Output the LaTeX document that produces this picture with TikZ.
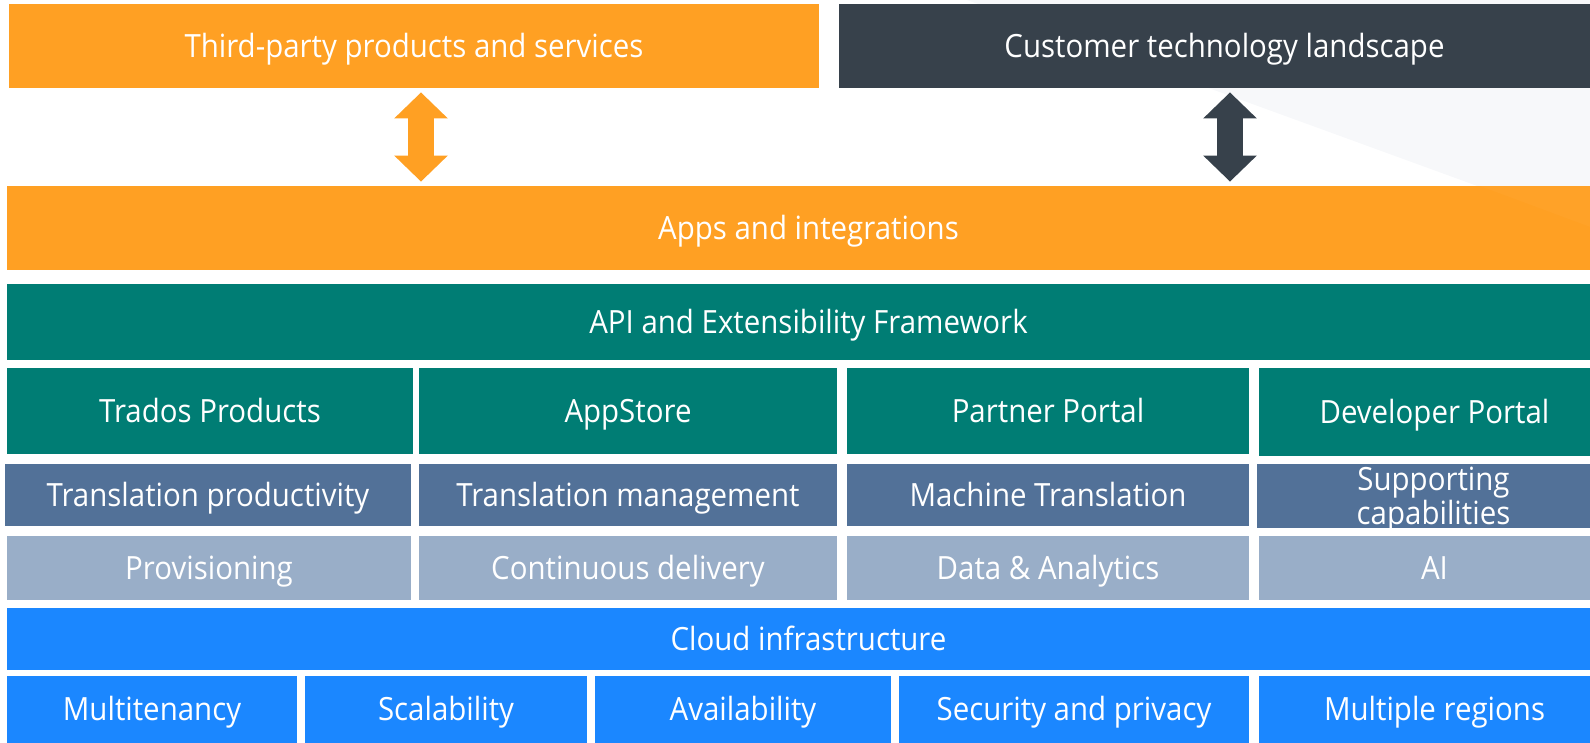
\documentclass[tikz,border=0pt]{standalone}
\usepackage{fontspec}
\setmainfont[FakeStretch=0.92]{Open Sans}
\usetikzlibrary{arrows.meta}

\definecolor{cOrange}{HTML}{FFA023}
\definecolor{cDark}{HTML}{37414B}
\definecolor{cTeal}{HTML}{007D74}
\definecolor{cSlate}{HTML}{527198}
\definecolor{cMist}{HTML}{99AEC8}
\definecolor{cSky}{HTML}{1B87FF}
\definecolor{cHaze}{HTML}{F7F8FA}

% block from (x1,y1) to (x2,y2) in pixel units
\newcommand\blk[8][]{%
  \node[blk, fill=#7,
        minimum width={(#5-#3)*0.5pt},
        minimum height={(#6-#4)*0.5pt}, #1]
    (#2) at ({(#3+#5)/2},{(#4+#6)/2}) {#8};}

\tikzset{
  blk/.style={rectangle, draw=none, inner sep=0pt, text=white,
              align=center, text height=11.4pt, text depth=0pt,
              font=\fontsize{16}{17}\selectfont},
  biarrow/.style={line width=13pt,
                  {Triangle[length=13pt,width=26pt]}-{Triangle[length=13pt,width=26pt]},
                  shorten <=2pt, shorten >=2pt}
}

\begin{document}
\begin{tikzpicture}[x=0.5pt,y=-0.5pt]
  \useasboundingbox (0,0) rectangle (1590,743);
  \clip (0,0) rectangle (1590,743);

  % faint backdrop wedge
  \fill[cHaze] (967,0) -- (1620,0) -- (1620,238) -- cycle;

  % top row
  \blk{tp}{9}{4}{819}{88}{cOrange}{Third-party products and services}
  \blk{ct}{839}{4}{1610}{88}{cDark}{Customer technology landscape}

  % apps and API
  \blk{apps}{7}{186}{1610}{270}{cOrange}{Apps and integrations}
  \fill[white, opacity=0.025] (1480,186) -- (1620,186) -- (1620,238) -- cycle;
  \blk{api}{7}{284}{1610}{360}{cTeal}{API and Extensibility Framework}

  % portals
  \blk{trados}{7}{368}{413}{454}{cTeal}{Trados Products}
  \blk{store}{419}{368}{837}{454}{cTeal}{AppStore}
  \blk{partner}{847}{368}{1249}{454}{cTeal}{Partner Portal}
  \blk{dev}{1259}{368}{1610}{456}{cTeal}{Developer Portal}

  % capabilities
  \blk{tprod}{5}{464}{411}{526}{cSlate}{Translation productivity}
  \blk{tmgmt}{419}{464}{837}{526}{cSlate}{Translation management}
  \blk{mt}{847}{464}{1249}{526}{cSlate}{Machine Translation}
  \blk[text height=28.4pt]{supp}{1257}{464}{1610}{528}{cSlate}{Supporting\\capabilities}

  % services
  \blk{prov}{7}{536}{411}{600}{cMist}{Provisioning}
  \blk{cd}{419}{536}{837}{600}{cMist}{Continuous delivery}
  \blk{da}{847}{536}{1249}{600}{cMist}{Data \& Analytics}
  \blk{ai}{1259}{536}{1610}{600}{cMist}{AI}

  % infrastructure
  \blk{cloud}{7}{608}{1610}{670}{cSky}{Cloud infrastructure}
  \blk{multi}{7}{676}{297}{743}{cSky}{Multitenancy}
  \blk{scal}{305}{676}{587}{743}{cSky}{Scalability}
  \blk{avail}{595}{676}{891}{743}{cSky}{Availability}
  \blk{sec}{899}{676}{1249}{743}{cSky}{Security and privacy}
  \blk{mreg}{1259}{676}{1610}{743}{cSky}{Multiple regions}

  % two-way connectors
  \coordinate (axL) at (421,0);
  \coordinate (axR) at (1230,0);
  \draw[biarrow, cOrange] (tp.south -| axL) -- (apps.north -| axL);
  \draw[biarrow, cDark] (ct.south -| axR) -- (apps.north -| axR);
\end{tikzpicture}
\end{document}
